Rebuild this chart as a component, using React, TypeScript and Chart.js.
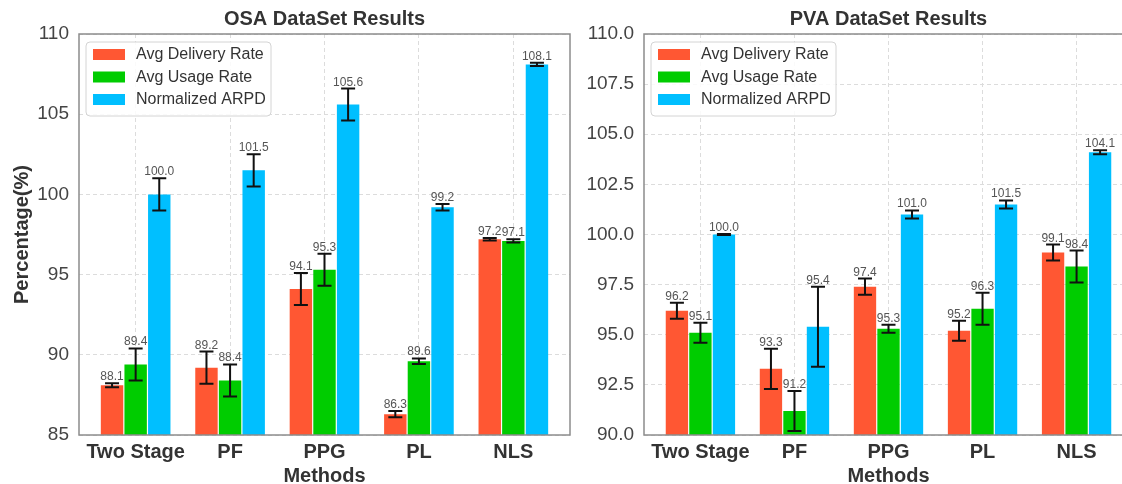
import React, { useEffect, useRef } from 'react';
import { Chart, registerables } from 'chart.js';

Chart.register(...registerables);

const FONT = "'Liberation Sans', Arial, Helvetica, sans-serif";

// ---------- data ----------
const categories = ['Two Stage', 'PF', 'PPG', 'PL', 'NLS'];
const seriesLabels = ['Avg Delivery Rate', 'Avg Usage Rate', 'Normalized ARPD'];
const seriesColors = ['#FF5733', '#00CC00', '#00BFFF'];

const osaDelivery = [88.1, 89.2, 94.1, 86.3, 97.2];
const osaDeliveryErr = [0.12, 1.0, 1.0, 0.2, 0.08];
const osaUsage = [89.4, 88.4, 95.3, 89.6, 97.1];
const osaUsageErr = [1.0, 1.0, 1.0, 0.17, 0.1];
const osaArpd = [100.0, 101.5, 105.6, 99.2, 108.1];
const osaArpdErr = [1.0, 1.0, 1.0, 0.2, 0.1];

const pvaDelivery = [96.2, 93.3, 97.4, 95.2, 99.1];
const pvaDeliveryErr = [0.4, 1.0, 0.4, 0.5, 0.4];
const pvaUsage = [95.1, 91.2, 95.3, 96.3, 98.4];
const pvaUsageErr = [0.5, 1.0, 0.2, 0.8, 0.8];
const pvaArpd = [100.0, 95.4, 101.0, 101.5, 104.1];
const pvaArpdErr = [0.02, 2.0, 0.2, 0.2, 0.1];

const osaTicks = [85, 90, 95, 100, 105, 110];
const pvaTicks = [90, 92.5, 95, 97.5, 100, 102.5, 105, 107.5, 110];

type PanelSpec = {
  title: string;
  values: number[][];
  errors: number[][];
  yTicks: number[];
  yDecimals: number;
  yTitle?: string;
  yWidth: number;
  padRight: number;
};

function roundRectPath(ctx: CanvasRenderingContext2D, x: number, y: number, w: number, h: number, r: number) {
  ctx.beginPath();
  ctx.moveTo(x + r, y);
  ctx.lineTo(x + w - r, y);
  ctx.arcTo(x + w, y, x + w, y + r, r);
  ctx.lineTo(x + w, y + h - r);
  ctx.arcTo(x + w, y + h, x + w - r, y + h, r);
  ctx.lineTo(x + r, y + h);
  ctx.arcTo(x, y + h, x, y + h - r, r);
  ctx.lineTo(x, y + r);
  ctx.arcTo(x, y, x + r, y, r);
  ctx.closePath();
}

function buildConfig(spec: PanelSpec): any {
  const decor = {
    id: 'decor',
    beforeDraw(chart: any) {
      const ctx = chart.ctx;
      ctx.save();
      ctx.fillStyle = '#ffffff';
      ctx.fillRect(0, 0, chart.width, chart.height);
      ctx.restore();
    },
    afterDatasetsDraw(chart: any) {
      const ctx = chart.ctx;
      const yScale = chart.scales.y;
      ctx.save();
      chart.data.datasets.forEach((_ds: any, i: number) => {
        const meta = chart.getDatasetMeta(i);
        meta.data.forEach((el: any, j: number) => {
          const v = spec.values[i][j];
          const e = spec.errors[i][j];
          const x = el.x;
          const yt = yScale.getPixelForValue(v + e);
          const yb = yScale.getPixelForValue(v - e);
          ctx.strokeStyle = '#111111';
          ctx.lineWidth = 2;
          ctx.beginPath();
          ctx.moveTo(x, yt);
          ctx.lineTo(x, yb);
          ctx.moveTo(x - 7, yt);
          ctx.lineTo(x + 7, yt);
          ctx.moveTo(x - 7, yb);
          ctx.lineTo(x + 7, yb);
          ctx.stroke();
          ctx.fillStyle = '#555555';
          ctx.font = `12px ${FONT}`;
          ctx.textAlign = 'center';
          ctx.textBaseline = 'alphabetic';
          ctx.fillText(v.toFixed(1), x, yt - 3);
        });
      });
      ctx.restore();
    },
    afterDraw(chart: any) {
      const ctx = chart.ctx;
      const ca = chart.chartArea;
      ctx.save();
      // frame
      ctx.strokeStyle = '#8c8c8c';
      ctx.lineWidth = 1.5;
      ctx.strokeRect(ca.left, ca.top, ca.right - ca.left, ca.bottom - ca.top);
      // title
      ctx.fillStyle = '#333333';
      ctx.font = `bold 20px ${FONT}`;
      ctx.textAlign = 'center';
      ctx.textBaseline = 'middle';
      ctx.fillText(spec.title, (ca.left + ca.right) / 2, 19);
      // legend
      const bx = ca.left + 7;
      const by = ca.top + 8;
      const bw = 185;
      const bh = 74;
      roundRectPath(ctx, bx, by, bw, bh, 4);
      ctx.fillStyle = 'rgba(255,255,255,0.85)';
      ctx.fill();
      ctx.strokeStyle = '#d4d4d4';
      ctx.lineWidth = 1;
      ctx.stroke();
      chart.data.datasets.forEach((ds: any, k: number) => {
        const cy = by + 13 + k * 22.5;
        ctx.fillStyle = ds.backgroundColor;
        ctx.fillRect(bx + 7, cy - 6, 32, 11);
        ctx.fillStyle = '#333333';
        ctx.font = `16px ${FONT}`;
        ctx.textAlign = 'left';
        ctx.textBaseline = 'middle';
        ctx.fillText(ds.label, bx + 50, cy);
      });
      ctx.restore();
    },
  };

  return {
    type: 'bar',
    data: {
      datasets: spec.values.map((vals, i) => ({
        label: seriesLabels[i],
        backgroundColor: seriesColors[i],
        borderWidth: 0,
        data: vals.map((v, j) => ({ x: j, y: v })),
        categoryPercentage: 0.75,
        barPercentage: 0.95,
      })),
    },
    options: {
      responsive: false,
      animation: false,
      devicePixelRatio: 1,
      layout: { padding: { top: 34, left: 0, right: spec.padRight, bottom: 0 } },
      plugins: {
        legend: { display: false },
        title: { display: false },
        tooltip: { enabled: false },
      },
      scales: {
        x: {
          type: 'linear',
          min: -0.6,
          max: 4.6,
          offset: false,
          afterBuildTicks: (axis: any) => {
            axis.ticks = categories.map((_c, i) => ({ value: i }));
          },
          afterFit: (scale: any) => {
            scale.height = 49;
          },
          ticks: {
            autoSkip: false,
            maxRotation: 0,
            minRotation: 0,
            padding: 5,
            color: '#333333',
            font: { family: FONT, size: 20, weight: 'bold' },
            callback: (value: number) => categories[Math.round(value)] ?? '',
          },
          grid: { offset: false, drawTicks: false, color: '#dcdcdc', lineWidth: 1 },
          border: { display: false, dash: [4, 3] },
          title: {
            display: true,
            text: 'Methods',
            color: '#333333',
            font: { family: FONT, size: 20, weight: 'bold', lineHeight: 0.8 },
            padding: { top: 0, bottom: 0 },
          },
        },
        y: {
          type: 'linear',
          min: spec.yTicks[0],
          max: spec.yTicks[spec.yTicks.length - 1],
          beginAtZero: false,
          afterBuildTicks: (axis: any) => {
            axis.ticks = spec.yTicks.map((t) => ({ value: t }));
          },
          afterFit: (scale: any) => {
            scale.width = spec.yWidth;
          },
          ticks: {
            padding: 10,
            color: '#444444',
            font: { family: FONT, size: 19 },
            callback: (value: number) => Number(value).toFixed(spec.yDecimals),
          },
          grid: { drawTicks: false, color: '#dcdcdc', lineWidth: 1 },
          border: { display: false, dash: [4, 3] },
          title: {
            display: !!spec.yTitle,
            text: spec.yTitle || '',
            color: '#333333',
            font: { family: FONT, size: 20, weight: 'bold' },
            padding: { top: 10, bottom: 0 },
          },
        },
      },
    },
    plugins: [decor],
  };
}

function Panel({ spec, left, width }: { spec: PanelSpec; left: number; width: number }) {
  const ref = useRef<HTMLCanvasElement>(null);
  useEffect(() => {
    const chart = new Chart(ref.current as HTMLCanvasElement, buildConfig(spec));
    return () => chart.destroy();
  }, []);
  return (
    <canvas
      ref={ref}
      width={width}
      height={484}
      style={{ position: 'absolute', left, top: 0, width, height: 484 }}
    />
  );
}

const osaSpec: PanelSpec = {
  title: 'OSA DataSet Results',
  values: [osaDelivery, osaUsage, osaArpd],
  errors: [osaDeliveryErr, osaUsageErr, osaArpdErr],
  yTicks: osaTicks,
  yDecimals: 0,
  yTitle: 'Percentage(%)',
  yWidth: 79,
  padRight: 5,
};

const pvaSpec: PanelSpec = {
  title: 'PVA DataSet Results',
  values: [pvaDelivery, pvaUsage, pvaArpd],
  errors: [pvaDeliveryErr, pvaUsageErr, pvaArpdErr],
  yTicks: pvaTicks,
  yDecimals: 1,
  yWidth: 69,
  padRight: 2,
};

export default function App() {
  return (
    <div
      style={{
        position: 'fixed',
        left: 0,
        top: 0,
        width: 1122,
        height: 484,
        overflow: 'hidden',
        background: '#ffffff',
      }}
    >
      <Panel spec={osaSpec} left={0} width={575} />
      <Panel spec={pvaSpec} left={575} width={560} />
    </div>
  );
}
